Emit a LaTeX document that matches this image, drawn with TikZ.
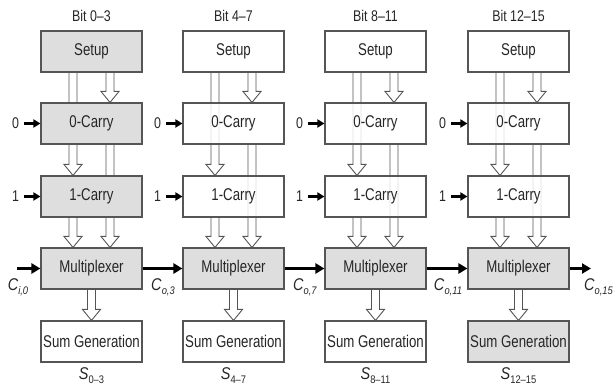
\documentclass[tikz,border=0pt]{standalone}
\usepackage{fontspec}
\usepackage{graphicx}
\setmainfont{Liberation Sans}
\usetikzlibrary{calc,arrows.meta}
\pgfdeclarelayer{bg}
\pgfsetlayers{bg,main}
\definecolor{boxc}{HTML}{555555}
\definecolor{grayfill}{HTML}{DEDEDE}
\newcommand\harrow[2]{%
  \draw[hollowar] let \p1=#1, \p2=#2 in
    (\x1-4pt,\y1) -- (\x1-4pt,\y2+11pt) -- (\x1-9pt,\y2+11pt) -- (\x1,\y2)
    -- (\x1+9pt,\y2+11pt) -- (\x1+4pt,\y2+11pt) -- (\x1+4pt,\y1);}
\newcommand\nt[1]{\scalebox{0.78}[1]{#1}}
\newcommand\lt[1]{\scalebox{0.8}[1]{#1}}
\newcommand\clab[2]{\scalebox{0.85}[1]{{\fontsize{17}{17}\selectfont\textit{#1}}\raisebox{-4pt}{\fontsize{11}{11}\selectfont\textit{#2}}}}
\newcommand\slab[1]{\scalebox{0.85}[1]{{\fontsize{17}{17}\selectfont\textit{S}}\raisebox{-4pt}{\fontsize{11}{11}\selectfont #1}}}
\begin{document}
\begin{tikzpicture}[x=1pt,y=-1pt,
  box/.style={draw=boxc, line width=1.1pt, minimum width=101pt, minimum height=41pt,
    inner sep=0pt, font=\fontsize{17}{18}\selectfont, text=black!85},
  wbox/.style={box, fill=white, fill opacity=0.82, text opacity=1},
  gbox/.style={box, fill=grayfill},
  hollowar/.style={draw=boxc, line width=0.9pt, fill=white, line join=miter},
  lab/.style={font=\fontsize{15.5}{16}\selectfont, text=black!85, inner sep=1pt},
  inar/.style={line width=2.4pt, -{Triangle[length=7pt,width=8pt]}},
  carar/.style={line width=3.2pt, -{Triangle[length=9pt,width=10pt]}}]
\useasboundingbox (0,0) rectangle (614,390);
% column 1
\node[gbox] (s1) at (91.5,51.5) {\nt{Setup}};
\node[gbox] (z1) at (91.5,123.5) {\nt{0-Carry}};
\node[gbox] (o1) at (91.5,196.5) {\nt{1-Carry}};
\node[gbox] (m1) at (91.5,268.5) {\nt{Multiplexer}};
\node[wbox] (g1) at (91.5,341.5) {\nt{Sum Generation}};
% column 2
\node[wbox] (s2) at (233.5,51.5) {\nt{Setup}};
\node[wbox] (z2) at (233.5,123.5) {\nt{0-Carry}};
\node[wbox] (o2) at (233.5,196.5) {\nt{1-Carry}};
\node[gbox] (m2) at (233.5,268.5) {\nt{Multiplexer}};
\node[wbox] (g2) at (233.5,341.5) {\nt{Sum Generation}};
% column 3
\node[wbox] (s3) at (375.5,51.5) {\nt{Setup}};
\node[wbox] (z3) at (375.5,123.5) {\nt{0-Carry}};
\node[wbox] (o3) at (375.5,196.5) {\nt{1-Carry}};
\node[gbox] (m3) at (375.5,268.5) {\nt{Multiplexer}};
\node[wbox] (g3) at (375.5,341.5) {\nt{Sum Generation}};
% column 4
\node[wbox] (s4) at (518.5,51.5) {\nt{Setup}};
\node[wbox] (z4) at (518.5,123.5) {\nt{0-Carry}};
\node[wbox] (o4) at (518.5,196.5) {\nt{1-Carry}};
\node[gbox] (m4) at (518.5,268.5) {\nt{Multiplexer}};
\node[gbox] (g4) at (518.5,341.5) {\nt{Sum Generation}};
% hollow arrows
\begin{pgfonlayer}{bg}
\foreach \i in {1,2,3,4}{
  \harrow{($(s\i.south)+(-18.5,0)$)}{($(o\i.north)+(-18.5,0)$)}
  \harrow{($(s\i.south)+(18.5,0)$)}{($(z\i.north)+(18.5,0)$)}
  \harrow{($(z\i.south)+(18.5,0)$)}{($(m\i.north)+(18.5,0)$)}
  \harrow{($(o\i.south)+(-18.5,0)$)}{($(m\i.north)+(-18.5,0)$)}
  \harrow{(m\i.south)}{(g\i.north)}
}
\end{pgfonlayer}
% bit labels
\node[lab] (b1) at (91.5,16) {\lt{Bit 0–3}};
\node[lab] (b2) at (233.5,16) {\lt{Bit 4–7}};
\node[lab] (b3) at (375.5,16) {\lt{Bit 8–11}};
\node[lab] (b4) at (518.5,16) {\lt{Bit 12–15}};
% inputs 0 and 1
\foreach \i in {1,2,3,4}{
  \node[lab] (zi\i) at ($(z\i.west)+(-25,0)$) {\lt{0}};
  \node[lab] (oi\i) at ($(o\i.west)+(-25,0)$) {\lt{1}};
  \draw[inar] ($(zi\i.east)+(4,0)$) -- (z\i.west);
  \draw[inar] ($(oi\i.east)+(4,0)$) -- (o\i.west);
}
% carry chain
\coordinate (cin) at (17,268.5);
\coordinate (cout) at (591,268.5);
\draw[carar] (cin) -- (m1.west);
\draw[carar] (m1.east) -- (m2.west);
\draw[carar] (m2.east) -- (m3.west);
\draw[carar] (m3.east) -- (m4.west);
\draw[carar] (m4.east) -- (cout);
\node[lab] (ci) at (18,287) {\clab{C}{i,0}};
\node[lab] (c3) at (163,287) {\clab{C}{o,3}};
\node[lab] (c7) at (305,287) {\clab{C}{o,7}};
\node[lab] (c11) at (448,287) {\clab{C}{o,11}};
\node[lab, anchor=east] (c15) at (614,287) {\clab{C}{o,15}};
% sum labels
\node[lab] (sl1) at (91.5,376) {\slab{0–3}};
\node[lab] (sl2) at (233.5,376) {\slab{4–7}};
\node[lab] (sl3) at (375.5,376) {\slab{8–11}};
\node[lab] (sl4) at (518.5,376) {\slab{12–15}};
\end{tikzpicture}
\end{document}
